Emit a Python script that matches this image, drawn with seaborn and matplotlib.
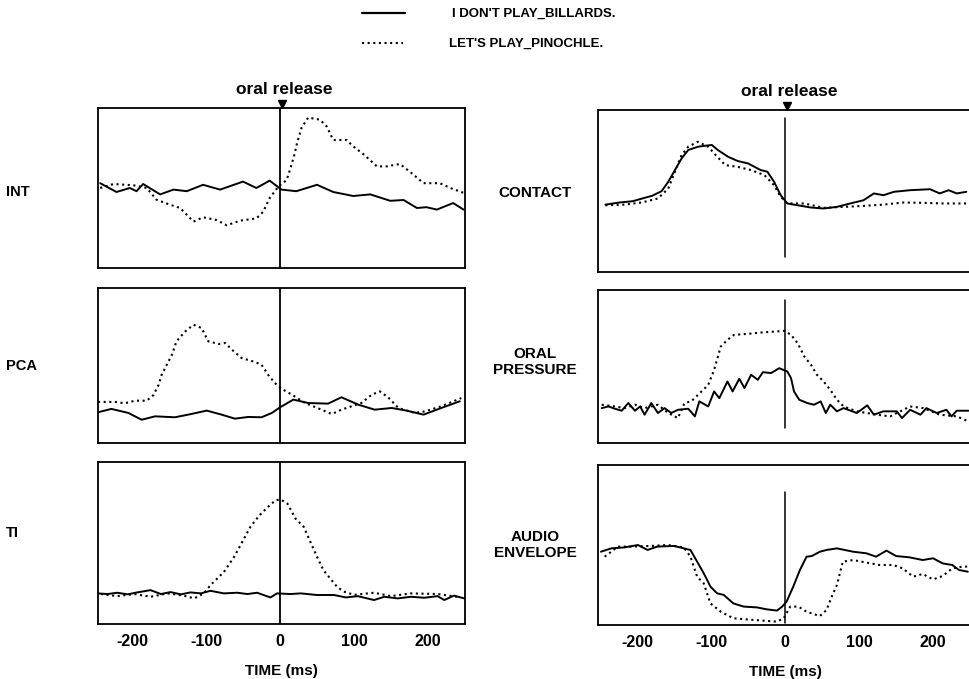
import matplotlib
matplotlib.use("Agg")
import matplotlib.pyplot as plt
import matplotlib.transforms as mtransforms
import seaborn as sns

# ---------------- data (time in ms, value in arbitrary units 0-100) ----------------
int_solid_t = [-243, -221, -203, -194, -185, -162, -144, -126, -104, -81, -50, -32, -14, 2, 22, 50, 72, 99, 122, 149, 167, 185, 198, 212, 234, 248]
int_solid_v = [53, 47.5, 50, 48, 52.5, 46, 49, 48, 52, 49, 54, 50, 54.6, 49, 48, 52, 47.5, 45, 46, 42, 42.5, 37.5, 38, 36.5, 40.6, 36.5]
int_dot_t = [-243, -225, -198, -180, -167, -149, -135, -117, -104, -86, -72, -54, -32, -23, -14, -2, 9, 13.5, 19, 23, 29, 38, 54, 63, 72, 90, 99, 113, 131, 144, 162, 176, 194, 216, 230, 248]
int_dot_v = [50, 52.5, 51.7, 50, 42.7, 39.6, 37.5, 29, 31.7, 30, 26.7, 29.6, 31, 35, 43.7, 51, 55, 61.5, 70, 78, 87.5, 94, 92.7, 88.5, 80, 80, 76, 71, 63.5, 63.5, 65, 60, 53, 53, 50, 47]

pca_solid_t = [-246, -228, -205, -187, -169, -142, -124, -99, -79, -61, -43, -25, -11, 0, 18, 38, 65, 83, 106, 128, 151, 171, 194, 218, 243]
pca_solid_v = [19.8, 22, 19.4, 15, 17.2, 16.6, 18.3, 20.9, 18.3, 15.7, 16.8, 16.6, 19.4, 23, 28, 25.8, 25.4, 29.5, 24.7, 21.5, 22.6, 20.9, 18.3, 22.6, 26.9]
pca_dot_t = [-246, -223, -210, -196, -180, -171, -164, -160, -153, -146, -140, -128, -117, -106, -97, -83, -74, -65, -52, -34, -25, -16, -7, 2, 16, 34, 56, 70, 83, 110, 124, 135, 146, 160, 182, 196, 218, 245]
pca_dot_v = [26.5, 26.5, 25.6, 27.3, 27.3, 31, 37.6, 44, 50.5, 57, 65.6, 72, 76.3, 74.2, 65.6, 63.9, 64.5, 60.2, 54.8, 52.3, 50.5, 44, 38.7, 35, 31.2, 25.8, 21.5, 18.7, 21.5, 25.8, 31.2, 33.3, 29.5, 22.6, 19.4, 20.4, 23.7, 29]

ti_solid_t = [-247, -233, -220, -206, -193, -175, -161, -148, -134, -121, -107, -94, -76, -58, -44, -31, -13, -4, 14, 28, 50, 73, 89, 105, 127, 141, 159, 177, 195, 213, 222, 235, 249]
ti_solid_v = [18.9, 18.5, 19.3, 18.3, 19.5, 20.9, 18.5, 19.7, 18.3, 19.5, 18.9, 20.5, 18.9, 19.3, 18.5, 19.3, 16.4, 18.9, 18.5, 18.9, 17.9, 17.9, 16.4, 17.2, 14.8, 16.8, 15.8, 16.8, 16.2, 17.2, 14.8, 17.5, 15.8]
ti_dot_t = [-242, -220, -197, -175, -152, -130, -116, -103, -94, -85, -76, -62, -51, -40, -28, -17, -6, 1, 10, 21, 32, 39, 50, 59, 68, 77, 86, 100, 127, 150, 177, 213, 240]
ti_dot_v = [18.5, 17.2, 18.5, 16.8, 18.9, 17.5, 15.8, 18.9, 24, 28, 32, 41.5, 50.7, 60, 67, 72, 76.4, 76.8, 74.3, 65, 60, 52.8, 41.5, 33, 28, 23, 20, 18, 19.3, 17.2, 18.9, 18.5, 16.8]

con_solid_t = [-243, -224, -206, -193, -180, -167, -158, -149, -140, -131, -118, -109, -99, -91, -77, -64, -50, -33, -24, -15, -6, 3, 17, 35, 52, 70, 88, 106, 120, 133, 147, 169, 196, 209, 221, 232, 245]
con_solid_v = [41.6, 42.9, 43.7, 45.4, 47, 49.9, 55.7, 62.9, 70.1, 75.3, 77.3, 77.9, 78.4, 75.3, 71.1, 68.5, 67, 62.9, 61.9, 55.7, 47.4, 42.3, 41.2, 39.8, 39.2, 40.2, 42.3, 44.3, 48.5, 47.4, 49.5, 50.5, 51.1, 48.5, 50.5, 48.5, 49.5]
con_dot_t = [-243, -217, -194, -172, -158, -149, -140, -131, -118, -104, -94, -81, -64, -46, -28, -15, -6, 3, 26, 52, 79, 106, 133, 160, 187, 214, 245]
con_dot_v = [41.2, 41.6, 42.9, 45.4, 51.5, 61.9, 72.2, 77.3, 80.4, 77.3, 72.2, 66, 64.9, 62.9, 59.8, 53.6, 46.4, 42.3, 42.3, 39.6, 40.2, 40.8, 41.6, 42.9, 42.7, 42.3, 42.3]

op_solid_t = [-248, -239, -230, -221, -212, -203, -196, -190, -181, -172, -163, -154, -145, -131, -122, -116, -104, -96, -89, -78, -71, -62, -55, -46, -37, -30, -19, -8, 3, 8, 12, 19, 30, 39, 48, 55, 61, 70, 79, 97, 111, 120, 133, 151, 158, 169, 183, 191, 205, 218, 225, 232, 248]
op_solid_v = [22.8, 23.9, 22.4, 21.1, 26.1, 21.1, 23.9, 18.5, 26.1, 19.6, 22.8, 19.6, 21.7, 22.4, 17.4, 27.2, 23.9, 33.7, 29.3, 40.2, 33.7, 42, 35.9, 44.6, 41.3, 46.3, 45.7, 48.9, 46.7, 42.4, 33.7, 28.3, 26.1, 25, 27.2, 19.6, 25, 20.7, 22.8, 19.6, 24.6, 18.5, 20.7, 20.7, 16.3, 21.7, 18.5, 22.8, 19.6, 21.7, 17.4, 21.1, 21.1]
op_dot_t = [-248, -230, -217, -203, -190, -172, -158, -145, -136, -127, -113, -104, -96, -87, -78, -69, -51, -33, -15, -1, 8, 17, 26, 35, 43, 52, 61, 70, 79, 97, 124, 142, 169, 187, 209, 232, 248]
op_dot_v = [25, 23.9, 22.8, 25, 22.8, 25, 19.6, 16.3, 26.1, 27.2, 33.7, 38, 47.8, 63, 67.4, 70.7, 71.3, 72.2, 72.8, 73.3, 70.7, 65.2, 56.5, 51.1, 44.6, 40.2, 34.8, 28.3, 23.9, 20.7, 18.5, 17.4, 23.9, 22.8, 18.5, 17.4, 14.1]

aud_solid_t = [-249, -235, -217, -199, -186, -173, -150, -137, -128, -119, -110, -101, -92, -83, -70, -56, -38, -25, -11, -4, 2, 11, 20, 29, 36, 47, 56, 70, 92, 110, 123, 137, 150, 168, 186, 200, 213, 226, 235, 247]
aud_solid_v = [45.8, 47.9, 48.5, 50, 46.9, 49, 49.4, 47.9, 46.9, 39.6, 32.3, 24, 19.8, 18.8, 13.5, 11.5, 11, 9.8, 9, 11.5, 14.6, 24, 34.4, 42.7, 43.1, 45.8, 46.9, 47.9, 45.8, 44.8, 42.7, 46.5, 43.1, 42.3, 40.6, 41.7, 38.5, 37.5, 34.4, 33.3]
aud_dot_t = [-244, -226, -208, -182, -159, -137, -128, -119, -110, -101, -87, -70, -52, -29, -11, -2, 7, 18, 29, 47, 56, 63, 70, 78, 92, 110, 128, 146, 159, 173, 186, 200, 213, 226, 240, 247]
aud_dot_v = [42.7, 49, 49, 49.4, 50, 48.5, 42.7, 30.2, 26, 13.5, 8.3, 4.2, 3.5, 2.7, 2.1, 4.2, 11.5, 11.5, 8.3, 5.6, 9.4, 17.7, 25, 39.6, 40.6, 39, 37.5, 37.5, 35.4, 30.2, 31.9, 28.5, 30.6, 35.4, 36.5, 36.5]

left_labels = ["INT", "PCA", "TI"]
right_labels = ["CONTACT", "ORAL\nPRESSURE", "AUDIO\nENVELOPE"]
series_names = ["I DON'T PLAY_BILLARDS.", "LET'S PLAY_PINOCHLE."]
tick_values = [-200, -100, 0, 100, 200]
tick_labels = ["-200", "-100", "0", "100", "200"]
xlabel_text = "TIME (ms)"
event_text = "oral release"

# ---------------- figure ----------------
sns.set_style("white")
plt.rcParams["font.family"] = ["Liberation Sans", "DejaVu Sans"]
plt.rcParams["font.weight"] = "bold"
plt.rcParams["text.color"] = "black"
plt.rcParams["axes.labelcolor"] = "black"
plt.rcParams["xtick.color"] = "black"

fig = plt.figure(figsize=(9.69, 6.79), dpi=100)
W, H = 969.0, 679.0

def add_ax(x0, x1, y0, y1):
    return fig.add_axes([x0 / W, 1 - y1 / H, (x1 - x0) / W, (y1 - y0) / H])

left_boxes = [(108, 268), (288, 443), (462, 624)]
right_boxes = [(110, 272), (290, 443), (465, 625)]
left_axes = [add_ax(98, 465, a, b) for a, b in left_boxes]
right_axes = [add_ax(598, 973, a, b) for a, b in right_boxes]

panels = [
    (left_axes[0], int_solid_t, int_solid_v, int_dot_t, int_dot_v),
    (left_axes[1], pca_solid_t, pca_solid_v, pca_dot_t, pca_dot_v),
    (left_axes[2], ti_solid_t, ti_solid_v, ti_dot_t, ti_dot_v),
    (right_axes[0], con_solid_t, con_solid_v, con_dot_t, con_dot_v),
    (right_axes[1], op_solid_t, op_solid_v, op_dot_t, op_dot_v),
    (right_axes[2], aud_solid_t, aud_solid_v, aud_dot_t, aud_dot_v),
]

dot_style = (0, (1, 1.7))
for ax, st, sv, dt, dv in panels:
    sns.lineplot(x=st, y=sv, ax=ax, color="black", lw=1.4, estimator=None, sort=False)
    sns.lineplot(x=dt, y=dv, ax=ax, color="black", lw=1.5, estimator=None, sort=False,
                 linestyle=dot_style)
    ax.set_ylim(0, 100)
    ax.set_yticks([])
    ax.set_ylabel("")
    ax.set_xlabel("")
    for s in ax.spines.values():
        s.set_linewidth(1.3)
        s.set_color("black")
    ax.set_xticks(tick_values)
    ax.tick_params(axis="x", direction="in", length=5, width=1.2, pad=7,
                   labelsize=11.5, colors="black")
    ax.xaxis.get_major_ticks()[2].tick1line.set_visible(False)

for ax in left_axes:
    ax.set_xlim(-246, 250)
    ax.axvline(0, color="black", lw=1.3)
for ax in right_axes:
    ax.set_xlim(-253, 254)
right_axes[0].axvline(0, ymin=0.093, ymax=0.95, color="black", lw=1.1)
right_axes[1].axvline(0, ymin=0.098, ymax=0.935, color="black", lw=1.1)
right_axes[2].axvline(0, ymin=0.0125, ymax=0.83, color="black", lw=1.1)

for row, ax in enumerate(left_axes + right_axes):
    if row in (2, 5):
        ax.set_xticklabels(tick_labels, fontweight="bold")
        ax.set_xlabel(xlabel_text, fontsize=11, fontweight="bold", labelpad=11, color="black")
    else:
        ax.tick_params(axis="x", labelbottom=False)

# oral release markers
for ax in (left_axes[0], right_axes[0]):
    tr = mtransforms.blended_transform_factory(ax.transData, ax.transAxes)
    ax.plot([2], [1.0], marker="v", color="black", ms=6, clip_on=False,
            transform=tr + mtransforms.ScaledTranslation(0, 3 / 72, fig.dpi_scale_trans))
    ax.annotate(event_text, xy=(0, 1), xycoords=tr, xytext=(3, 13), textcoords="offset points",
                ha="center", va="center", fontsize=12.5, fontweight="bold", color="black")

# row labels
for i, lab in enumerate(left_labels):
    y = [192, 366, 533][i]
    fig.text(6 / W, 1 - y / H, lab, ha="left", va="center", fontsize=10.5,
             fontweight="bold", color="black")
for i, lab in enumerate(right_labels):
    y = [193, 362, 545][i]
    fig.text(535 / W, 1 - y / H, lab, ha="center", va="center", fontsize=11,
             fontweight="bold", linespacing=1.1, color="black")

# legend (drawn on an overlay axis)
lax = fig.add_axes([0, 0, 1, 1], facecolor="none")
lax.set_xlim(0, W)
lax.set_ylim(H, 0)
lax.axis("off")
sns.lineplot(x=[362, 405], y=[13, 13], ax=lax, color="black", lw=1.6, estimator=None)
sns.lineplot(x=[362, 403], y=[43, 43], ax=lax, color="black", lw=1.5, estimator=None,
             linestyle=dot_style)
lax.text(452, 14, series_names[0], ha="left", va="center", fontsize=9.5, fontweight="bold",
         color="black")
lax.text(449, 44, series_names[1], ha="left", va="center", fontsize=9.5, fontweight="bold",
         color="black")

fig.savefig("out.png", dpi=100)
